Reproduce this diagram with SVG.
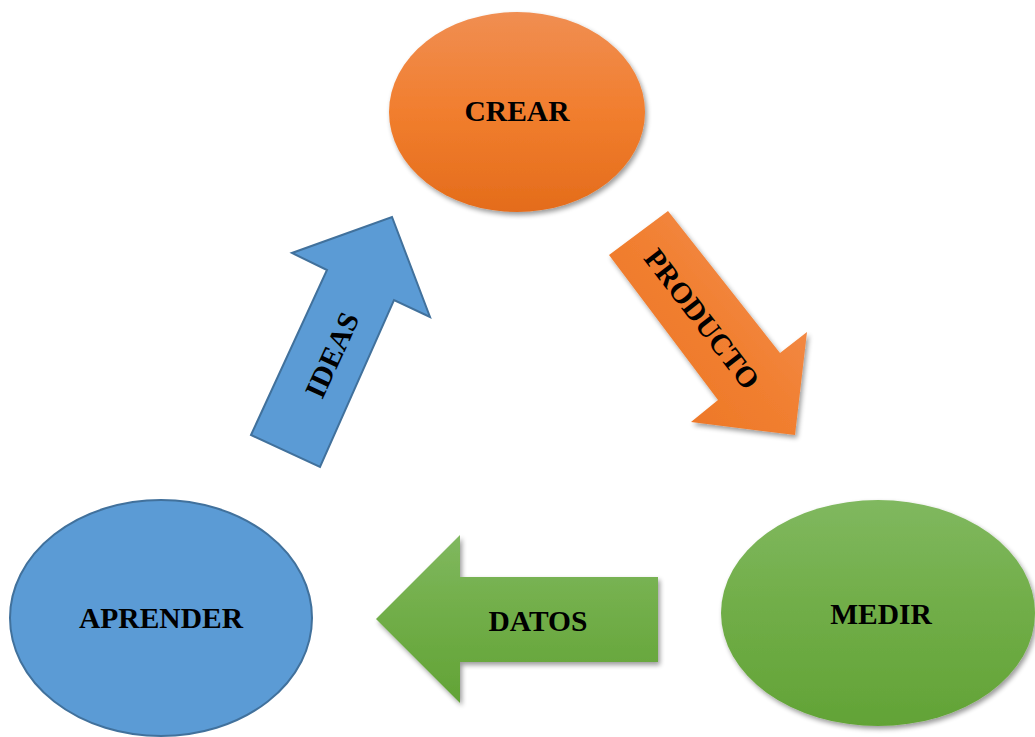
<svg xmlns="http://www.w3.org/2000/svg" width="1035" height="737" viewBox="0 0 1035 737">
  <defs>
    <linearGradient id="gOrange" x1="0" y1="0" x2="0" y2="1">
      <stop offset="0" stop-color="#F08E52"/>
      <stop offset="0.5" stop-color="#F17E2E"/>
      <stop offset="1" stop-color="#E46C1B"/>
    </linearGradient>
    <linearGradient id="gOrangeArrow" x1="1" y1="0" x2="0" y2="1">
      <stop offset="0" stop-color="#F3925A"/>
      <stop offset="0.5" stop-color="#F17F30"/>
      <stop offset="1" stop-color="#EA7222"/>
    </linearGradient>
    <linearGradient id="gGreen" x1="0" y1="0" x2="0" y2="1">
      <stop offset="0" stop-color="#80B85F"/>
      <stop offset="0.5" stop-color="#70AD47"/>
      <stop offset="1" stop-color="#62A336"/>
    </linearGradient>
    <filter id="shadow" x="-10%" y="-10%" width="125%" height="125%">
      <feGaussianBlur in="SourceAlpha" stdDeviation="2.5"/>
      <feOffset dx="2" dy="3" result="b"/>
      <feComponentTransfer><feFuncA type="linear" slope="0.4"/></feComponentTransfer>
      <feMerge><feMergeNode/><feMergeNode in="SourceGraphic"/></feMerge>
    </filter>
  </defs>
  <style>
    .lbl { font-family: "Liberation Serif", "Times New Roman", serif; font-weight: bold; font-size: 29.5px; fill: #000; text-anchor: middle; }
    .blue { fill: #5B9BD5; stroke: #41719C; stroke-width: 2; }
  </style>
  <rect width="1035" height="737" fill="#FFFFFF"/>

  <g id="connectors">
    <g id="ideas">
      <polygon class="blue" points="251,435 327,270 292,253 392,217 430,317 394,300 320,467"/>
      <text class="lbl" transform="translate(332,355) rotate(-65.4)" y="10">IDEAS</text>
    </g>
    <g id="producto">
      <polygon fill="url(#gOrangeArrow)" filter="url(#shadow)" points="609,255 668,211 780,353 807,332 795,435 691,422 718,400"/>
      <text class="lbl" transform="translate(702,319) rotate(52.3)" y="10">PRODUCTO</text>
    </g>
    <g id="datos">
      <polygon fill="url(#gGreen)" filter="url(#shadow)" points="376,619 460,535 460,577 658,577 658,662 460,662 460,703"/>
      <text class="lbl" x="538" y="631">DATOS</text>
    </g>
  </g>

  <g id="crear">
    <ellipse cx="517" cy="112" rx="128" ry="100" fill="url(#gOrange)" filter="url(#shadow)"/>
    <text class="lbl" x="517" y="121">CREAR</text>
  </g>
  <g id="aprender">
    <ellipse class="blue" cx="161" cy="618" rx="151" ry="118"/>
    <text class="lbl" x="161" y="628">APRENDER</text>
  </g>
  <g id="medir">
    <ellipse cx="878" cy="613" rx="157" ry="113" fill="url(#gGreen)" filter="url(#shadow)"/>
    <text class="lbl" x="881" y="624">MEDIR</text>
  </g>
</svg>
